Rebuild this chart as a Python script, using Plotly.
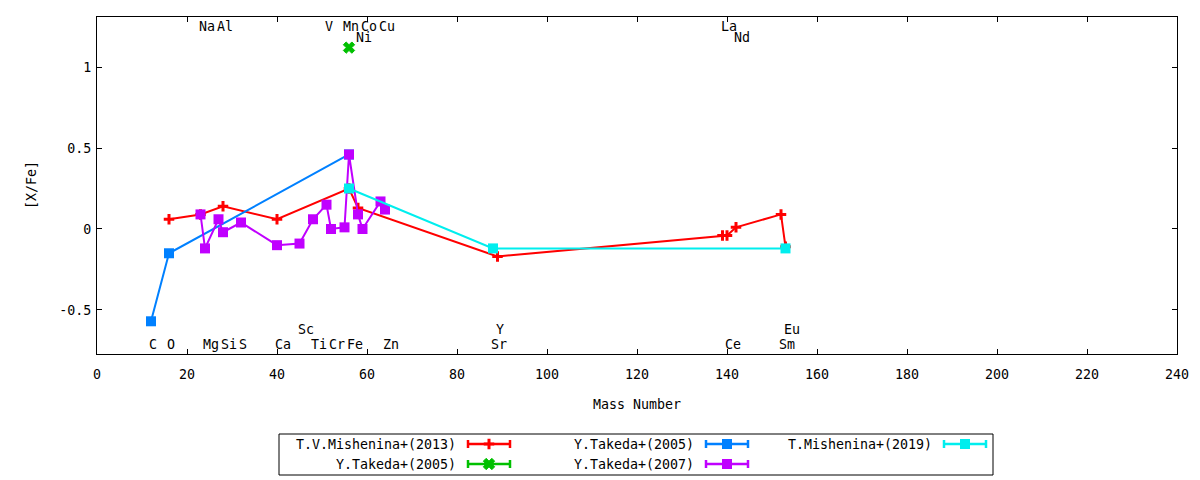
import plotly.graph_objects as go

FONT = "DejaVu Sans Mono"
FS = 13.3

# element labels, placed at the mass number of the main isotope
top_names = ["Na", "Al", "V", "Mn", "Co", "Cu", "La"]
top_mass = [23, 27, 51, 55, 59, 63, 139]
top2_names = ["Ni", "Nd"]
top2_mass = [58, 142]
bot_names = ["C", "O", "Mg", "Si", "S", "Ca", "Ti", "Cr", "Fe", "Zn", "Sr", "Ce", "Sm"]
bot_mass = [12, 16, 24, 28, 32, 40, 48, 52, 56, 64, 88, 140, 152]
bot2_names = ["Sc", "Y", "Eu"]
bot2_mass = [45, 89, 153]

# [X/Fe] per study
mish13_mass = [16, 23, 28, 40, 56, 58, 89, 139, 140, 142, 152, 153]
mish13_xfe = [0.06, 0.09, 0.14, 0.06, 0.25, 0.13, -0.17, -0.04, -0.04, 0.01, 0.09, -0.11]

takeda05a_mass = [56]
takeda05a_xfe = [1.12]

takeda05b_mass = [12, 16, 56]
takeda05b_xfe = [-0.57, -0.15, 0.46]

takeda07_mass = [23, 24, 27, 28, 32, 40, 45, 48, 51, 52, 55, 56, 58, 59, 63, 64]
takeda07_xfe = [0.09, -0.12, 0.06, -0.02, 0.04, -0.10, -0.09, 0.06, 0.15, 0.00, 0.01, 0.46,
                0.09, 0.00, 0.17, 0.12]

mish19_mass = [56, 88, 153]
mish19_xfe = [0.25, -0.12, -0.12]

x_ticks = list(range(0, 241, 20))
y_ticks = [-0.5, 0, 0.5, 1]
y_ticktext = ["-0.5", "0", "0.5", "1"]

# name, x, y, colour, symbol, size, line width of symbol, key column, key row
series = [
    ("T.V.Mishenina+(2013)", mish13_mass, mish13_xfe, "#ff0000", "cross-thin", 7.5, 3, 0, 0),
    ("Y.Takeda+(2005)", takeda05a_mass, takeda05a_xfe, "#00c000", "x", 10, 1, 0, 1),
    ("Y.Takeda+(2005)", takeda05b_mass, takeda05b_xfe, "#0080ff", "square", 10, 0, 1, 0),
    ("Y.Takeda+(2007)", takeda07_mass, takeda07_xfe, "#c000ff", "square", 10, 0, 1, 1),
    ("T.Mishenina+(2019)", mish19_mass, mish19_xfe, "#00eeee", "square", 10, 0, 2, 0),
]

# page pixels: the page body has an 8px margin, so the figure starts at (8, 8)
OFF = 8
PW, PH = 1200, 480
W, H = PW - OFF, PH - OFF
L, R, T, B = 97, 1177, 17, 354  # plot box in page pixels

fig = go.Figure()

for name, xs, ys, col, sym, sz, lw, c, r in series:
    fig.add_trace(go.Scatter(
        x=xs, y=ys, mode="lines+markers", name=name, showlegend=False,
        line=dict(color=col, width=2),
        marker=dict(symbol=sym, size=sz, color=col, line=dict(color=col, width=lw)),
    ))

ann = []
for names, masses, yv in [(top_names, top_mass, 1.253), (top2_names, top2_mass, 1.185),
                          (bot_names, bot_mass, -0.716), (bot2_names, bot2_mass, -0.623)]:
    for n, m in zip(names, masses):
        ann.append(dict(x=m, y=yv, xref="x", yref="y", text=n, showarrow=False,
                        xanchor="left", yanchor="middle", xshift=-4,
                        font=dict(family=FONT, size=FS, color="black")))

# key, drawn gnuplot style on a pixel overlay
key_text_end = [458, 696, 934]
key_rows = [444, 464]
shapes = [dict(type="rect", xref="x2", yref="y2", x0=279, x1=993, y0=434, y1=475,
               line=dict(color="black", width=1))]
for name, xs, ys, col, sym, sz, lw, c, r in series:
    xe = key_text_end[c]
    yr = key_rows[r]
    ann.append(dict(x=xe, y=yr, xref="x2", yref="y2", text=name, showarrow=False,
                    xanchor="right", yanchor="middle",
                    font=dict(family=FONT, size=FS, color="black")))
    x0, x1 = xe + 10, xe + 52
    fig.add_trace(go.Scatter(
        x=[x0, x0, None, x0, x1, None, x1, x1], y=[yr - 4, yr + 4, None, yr, yr, None, yr - 4, yr + 4],
        xaxis="x2", yaxis="y2", mode="lines", showlegend=False, hoverinfo="skip",
        line=dict(color=col, width=2.5)))
    fig.add_trace(go.Scatter(
        x=[(x0 + x1) / 2], y=[yr], xaxis="x2", yaxis="y2", mode="markers",
        showlegend=False, hoverinfo="skip",
        marker=dict(symbol=sym, size=sz, color=col, line=dict(color=col, width=lw))))

ann.append(dict(x=637, y=404, xref="x2", yref="y2", text="Mass Number", showarrow=False,
                font=dict(family=FONT, size=FS, color="black")))
ann.append(dict(x=31, y=185, xref="x2", yref="y2", text="[X/Fe]", showarrow=False, textangle=-90,
                font=dict(family=FONT, size=FS, color="black")))

axis_common = dict(showline=True, linecolor="black", linewidth=1, mirror="ticks",
                   ticks="inside", ticklen=5, tickcolor="black", tickwidth=1,
                   showgrid=False, zeroline=False,
                   tickfont=dict(family=FONT, size=FS, color="black"))

fig.update_layout(
    width=W, height=H, template="none",
    margin=dict(l=0, r=0, t=0, b=0),
    paper_bgcolor="white", plot_bgcolor="rgba(0,0,0,0)",
    xaxis=dict(domain=[(L - OFF) / W, (R - OFF) / W], range=[0, 240], tickvals=x_ticks,
               anchor="y", ticklabelstandoff=8, **axis_common),
    yaxis=dict(domain=[(PH - B) / H, (PH - T) / H], range=[-0.772, 1.309], tickvals=y_ticks,
               ticktext=y_ticktext, anchor="x", ticklabelstandoff=2, **axis_common),
    xaxis2=dict(domain=[0, 1], range=[OFF, PW], visible=False, anchor="y2", fixedrange=True),
    yaxis2=dict(domain=[0, 1], range=[PH, OFF], visible=False, anchor="x2", fixedrange=True),
    annotations=ann,
    shapes=shapes,
    showlegend=False,
)

fig.write_html("out.html")
